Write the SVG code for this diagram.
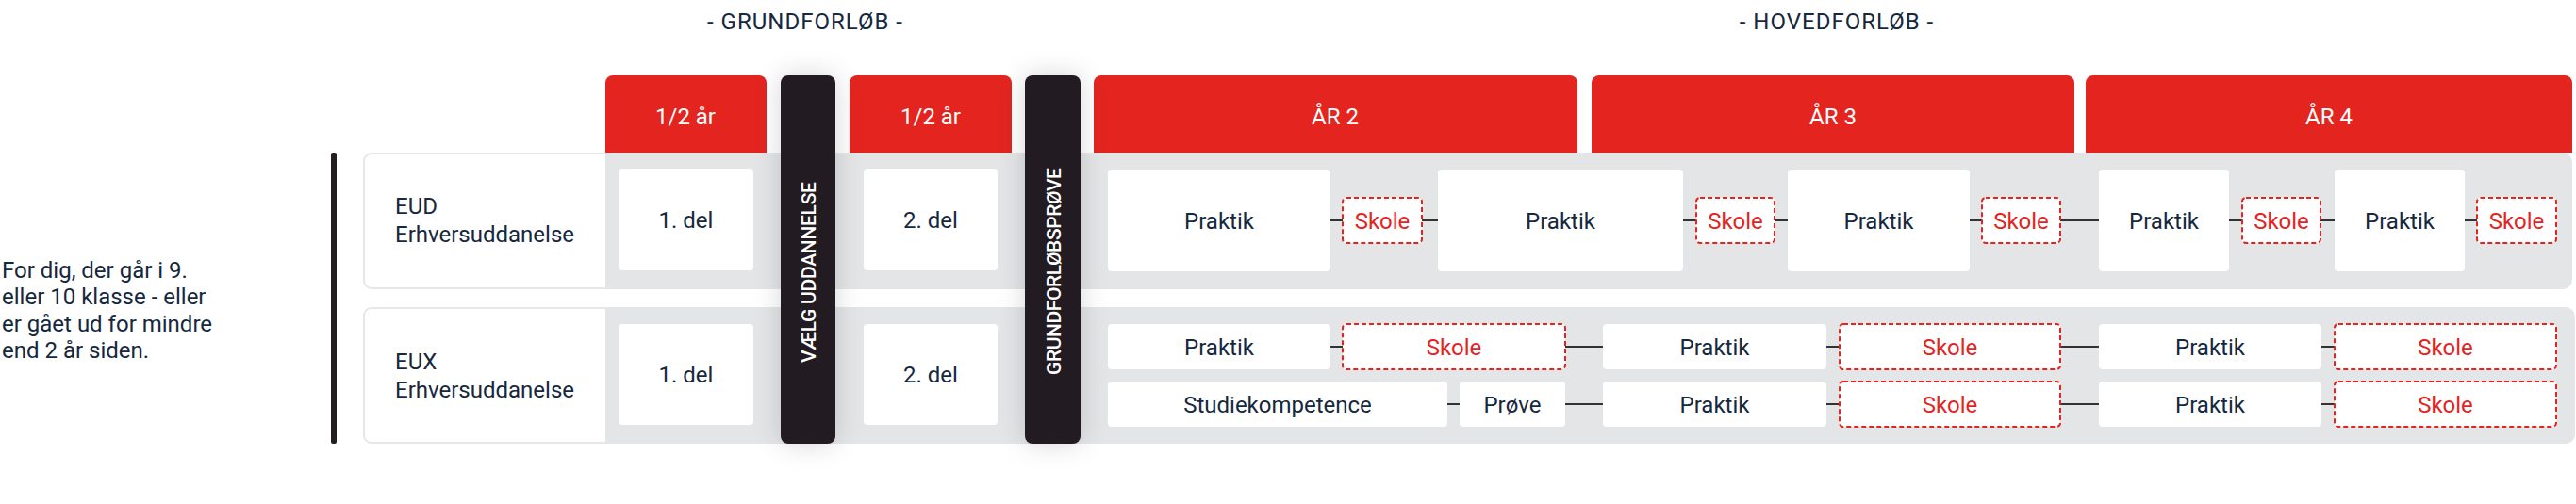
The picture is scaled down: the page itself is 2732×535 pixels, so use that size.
<svg xmlns="http://www.w3.org/2000/svg" width="2732" height="535" viewBox="0 0 2732 535">
<defs>
<filter id="sh" x="-100%" y="-20%" width="300%" height="140%">
<feDropShadow dx="0" dy="0" stdDeviation="14" flood-color="#000" flood-opacity="0.16"/>
</filter>
</defs>
<style>
text{font-family:Roboto,"Liberation Sans",sans-serif;font-size:24px;fill:#15283e}
.t{text-anchor:middle}
.hd{fill:#e3241f}
.hdt{fill:#fff;text-anchor:middle}
.row{fill:#e4e5e7}
.box{fill:#fff}
.sk{fill:#fff;stroke:#e3241f;stroke-width:2;stroke-dasharray:5 3}
.skt{fill:#e3241f;text-anchor:middle}
.bar{fill:#231f20}
.bt{fill:#fff;font-size:21px;font-weight:500;text-anchor:middle}
.lbl{fill:#fff;stroke:#e6e7e9;stroke-width:2}
.cn line{stroke:#333;stroke-width:2}
</style>
<rect width="2732" height="535" fill="#fff"/>

<g id="intro">
<text x="2" y="295">For dig, der går i 9.</text>
<text x="2" y="323">eller 10 klasse - eller</text>
<text x="2" y="352">er gået ud for mindre</text>
<text x="2" y="380">end 2 år siden.</text>
</g>
<rect id="bracket" x="351" y="162" width="6" height="309" rx="2" fill="#231f20"/>

<g id="titles">
<text class="t" x="854" y="31" letter-spacing="1">- GRUNDFORLØB -</text>
<text class="t" x="1948" y="31" letter-spacing="1">- HOVEDFORLØB -</text>
</g>

<g id="headers">
<path class="hd" d="M642,162V88a8,8 0 0 1 8,-8H805a8,8 0 0 1 8,8V162Z"/>
<text class="hdt" x="727" y="132">1/2 år</text>
<path class="hd" d="M901,162V88a8,8 0 0 1 8,-8H1065a8,8 0 0 1 8,8V162Z"/>
<text class="hdt" x="987" y="132">1/2 år</text>
<path class="hd" d="M1160,162V88a8,8 0 0 1 8,-8H1665a8,8 0 0 1 8,8V162Z"/>
<text class="hdt" x="1416" y="132">ÅR 2</text>
<path class="hd" d="M1688,162V88a8,8 0 0 1 8,-8H2192a8,8 0 0 1 8,8V162Z"/>
<text class="hdt" x="1944" y="132">ÅR 3</text>
<path class="hd" d="M2212,162V88a8,8 0 0 1 8,-8H2720a8,8 0 0 1 8,8V162Z"/>
<text class="hdt" x="2470" y="132">ÅR 4</text>
</g>

<g id="row-eud">
<path class="row" d="M642,162H2718a10,10 0 0 1 10,10V297a10,10 0 0 1 -10,10H642Z"/>
<path class="lbl" d="M642,163H394a8,8 0 0 0 -8,8V298a8,8 0 0 0 8,8H642"/>
<text x="419" y="227">EUD</text>
<text x="419" y="257">Erhversuddanelse</text>
</g>
<g id="row-eux">
<path class="row" d="M642,326H2721a10,10 0 0 1 10,10V461a10,10 0 0 1 -10,10H642Z"/>
<path class="lbl" d="M642,327H394a8,8 0 0 0 -8,8V462a8,8 0 0 0 8,8H642"/>
<text x="419" y="392">EUX</text>
<text x="419" y="422">Erhversuddanelse</text>
</g>

<g id="connectors" class="cn">
<line x1="1411" y1="234" x2="1424" y2="234"/>
<line x1="1508" y1="234" x2="1525" y2="234"/>
<line x1="1785" y1="234" x2="1799" y2="234"/>
<line x1="1882" y1="234" x2="1896" y2="234"/>
<line x1="2089" y1="234" x2="2102" y2="234"/>
<line x1="2185" y1="234" x2="2226" y2="234"/>
<line x1="2364" y1="234" x2="2378" y2="234"/>
<line x1="2461" y1="234" x2="2476" y2="234"/>
<line x1="2614" y1="234" x2="2627" y2="234"/>
<line x1="1411" y1="368" x2="1424" y2="368"/>
<line x1="1660" y1="368" x2="1700" y2="368"/>
<line x1="1937" y1="368" x2="1951" y2="368"/>
<line x1="2185" y1="368" x2="2226" y2="368"/>
<line x1="2462" y1="368" x2="2476" y2="368"/>
<line x1="1535" y1="429" x2="1548" y2="429"/>
<line x1="1660" y1="429" x2="1700" y2="429"/>
<line x1="1937" y1="429" x2="1951" y2="429"/>
<line x1="2185" y1="429" x2="2226" y2="429"/>
<line x1="2462" y1="429" x2="2476" y2="429"/>
</g>

<g id="eud-1del"><rect class="box" x="656" y="179" width="143" height="108" rx="4"/><text class="t" x="727.5" y="242">1. del</text></g>
<g id="eud-2del"><rect class="box" x="916" y="179" width="142" height="108" rx="4"/><text class="t" x="987" y="242">2. del</text></g>
<g id="eux-1del"><rect class="box" x="656" y="344" width="143" height="107" rx="4"/><text class="t" x="727.5" y="406">1. del</text></g>
<g id="eux-2del"><rect class="box" x="916" y="344" width="142" height="107" rx="4"/><text class="t" x="987" y="406">2. del</text></g>

<g id="eud-p1"><rect class="box" x="1175" y="180" width="236" height="108" rx="4"/><text class="t" x="1293" y="242.5">Praktik</text></g>
<g id="eud-s1"><rect class="sk" x="1424" y="210" width="84" height="48" rx="4"/><text class="skt" x="1466" y="242.5">Skole</text></g>
<g id="eud-p2"><rect class="box" x="1525" y="180" width="260" height="108" rx="4"/><text class="t" x="1655" y="242.5">Praktik</text></g>
<g id="eud-s2"><rect class="sk" x="1799" y="210" width="83" height="48" rx="4"/><text class="skt" x="1840.5" y="242.5">Skole</text></g>
<g id="eud-p3"><rect class="box" x="1896" y="180" width="193" height="108" rx="4"/><text class="t" x="1992.5" y="242.5">Praktik</text></g>
<g id="eud-s3"><rect class="sk" x="2102" y="210" width="83" height="48" rx="4"/><text class="skt" x="2143.5" y="242.5">Skole</text></g>
<g id="eud-p4"><rect class="box" x="2226" y="180" width="138" height="108" rx="4"/><text class="t" x="2295" y="242.5">Praktik</text></g>
<g id="eud-s4"><rect class="sk" x="2378" y="210" width="83" height="48" rx="4"/><text class="skt" x="2419.5" y="242.5">Skole</text></g>
<g id="eud-p5"><rect class="box" x="2476" y="180" width="138" height="108" rx="4"/><text class="t" x="2545" y="242.5">Praktik</text></g>
<g id="eud-s5"><rect class="sk" x="2627" y="210" width="84" height="48" rx="4"/><text class="skt" x="2669" y="242.5">Skole</text></g>

<g id="eux-a-p1"><rect class="box" x="1175" y="344" width="236" height="48" rx="4"/><text class="t" x="1293" y="376.5">Praktik</text></g>
<g id="eux-a-s1"><rect class="sk" x="1424" y="344" width="236" height="48" rx="4"/><text class="skt" x="1542" y="376.5">Skole</text></g>
<g id="eux-a-p2"><rect class="box" x="1700" y="344" width="237" height="48" rx="4"/><text class="t" x="1818.5" y="376.5">Praktik</text></g>
<g id="eux-a-s2"><rect class="sk" x="1951" y="344" width="234" height="48" rx="4"/><text class="skt" x="2068" y="376.5">Skole</text></g>
<g id="eux-a-p3"><rect class="box" x="2226" y="344" width="236" height="48" rx="4"/><text class="t" x="2344" y="376.5">Praktik</text></g>
<g id="eux-a-s3"><rect class="sk" x="2476" y="344" width="235" height="48" rx="4"/><text class="skt" x="2593.5" y="376.5">Skole</text></g>

<g id="eux-b-studie"><rect class="box" x="1175" y="405" width="360" height="48" rx="4"/><text class="t" x="1355" y="437.5">Studiekompetence</text></g>
<g id="eux-b-prove"><rect class="box" x="1548" y="405" width="112" height="48" rx="4"/><text class="t" x="1604" y="437.5">Prøve</text></g>
<g id="eux-b-p2"><rect class="box" x="1700" y="405" width="237" height="48" rx="4"/><text class="t" x="1818.5" y="437.5">Praktik</text></g>
<g id="eux-b-s2"><rect class="sk" x="1951" y="405" width="234" height="48" rx="4"/><text class="skt" x="2068" y="437.5">Skole</text></g>
<g id="eux-b-p3"><rect class="box" x="2226" y="405" width="236" height="48" rx="4"/><text class="t" x="2344" y="437.5">Praktik</text></g>
<g id="eux-b-s3"><rect class="sk" x="2476" y="405" width="235" height="48" rx="4"/><text class="skt" x="2593.5" y="437.5">Skole</text></g>

<g id="bar-vaelg">
<rect class="bar" x="828" y="80" width="58" height="391" rx="8" filter="url(#sh)"/>
<text class="bt" transform="translate(865,289) rotate(-90)" textLength="192" lengthAdjust="spacing">VÆLG UDDANNELSE</text>
</g>
<g id="bar-prove">
<rect class="bar" x="1087" y="80" width="59" height="391" rx="8" filter="url(#sh)"/>
<text class="bt" transform="translate(1125,288) rotate(-90)" textLength="220" lengthAdjust="spacing">GRUNDFORLØBSPRØVE</text>
</g>
</svg>
